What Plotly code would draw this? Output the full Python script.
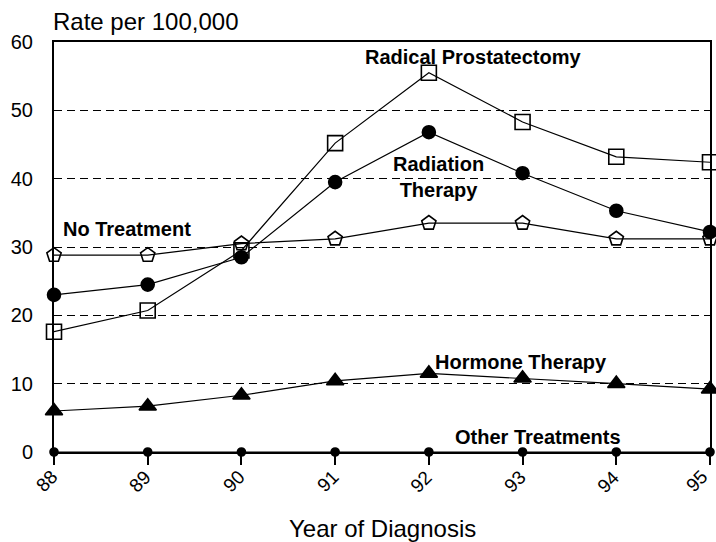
import plotly.graph_objects as go

years = [88, 89, 90, 91, 92, 93, 94, 95]
radical_prostatectomy = [17.6, 20.7, 29.5, 45.2, 55.5, 48.3, 43.2, 42.4]
radiation_therapy = [23.0, 24.5, 28.5, 39.5, 46.8, 40.8, 35.3, 32.2]
no_treatment = [28.8, 28.8, 30.5, 31.2, 33.5, 33.5, 31.2, 31.2]
hormone_therapy = [6.0, 6.7, 8.3, 10.4, 11.5, 10.8, 10.0, 9.2]
other_treatments = [0, 0, 0, 0, 0, 0, 0, 0]
y_ticks = [0, 10, 20, 30, 40, 50, 60]

FONT = "Liberation Sans, Arial, sans-serif"

series = [
    (no_treatment, "pentagon-open", 15, "No Treatment"),
    (radical_prostatectomy, "square-open", 15, "Radical Prostatectomy"),
    (radiation_therapy, "circle", 13, "Radiation Therapy"),
    (hormone_therapy, "triangle-up", 15, "Hormone Therapy"),
    (other_treatments, "circle", 8, "Other Treatments"),
]

fig = go.Figure()
for vals, sym, size, name in series:
    fig.add_trace(go.Scatter(
        x=years, y=vals, name=name, mode="lines+markers",
        line=dict(color="black", width=1.2),
        marker=dict(symbol=sym, size=size, color="black",
                    line=dict(color="black", width=1.6)),
        cliponaxis=False, showlegend=False,
    ))

# series labels placed inside the plot
labels = [
    (92.48, 57.8, "Radical Prostatectomy", "center"),
    (92.10, 40.2, "Radiation<br>Therapy", "center"),
    (88.07, 32.6, "No Treatment", "left"),
    (92.04, 13.2, "Hormone Therapy", "left"),
    (92.26, 2.2, "Other Treatments", "left"),
]
for x, y, t, al in labels:
    fig.add_annotation(x=x, y=y, text="<b>" + t + "</b>", showarrow=False,
                       xanchor=al, yanchor="middle", align="center",
                       font=dict(family=FONT, size=20, color="black"))

# rotated year labels under each tick (last one nudged inside the page)
for yr in years:
    fig.add_annotation(x=yr, y=0, text=str(yr), showarrow=False,
                       textangle=-45, xanchor="center", yanchor="middle",
                       xshift=-14 if yr == years[-1] else -8, yshift=-29,
                       font=dict(family=FONT, size=19, color="black"))

fig.add_annotation(xref="paper", yref="paper", x=0.5, y=0, yshift=-76,
                   text="Year of Diagnosis", showarrow=False,
                   xanchor="center", yanchor="middle",
                   font=dict(family=FONT, size=24, color="black"))

fig.add_annotation(xref="paper", yref="paper", x=-0.005, y=1.0, yshift=21,
                   text="Rate per 100,000", showarrow=False,
                   xanchor="left", yanchor="middle",
                   font=dict(family=FONT, size=24, color="black"))

fig.update_xaxes(
    range=[88, 95], tickvals=years, showticklabels=False,
    ticks="outside", ticklen=11, tickwidth=2, tickcolor="black",
    showline=True, linecolor="black", linewidth=2, mirror=True,
    showgrid=False, zeroline=False,
)
fig.update_yaxes(
    range=[0, 60], tickvals=y_ticks, ticks="", ticklabelstandoff=15,
    showline=True, linecolor="black", linewidth=2, mirror=True,
    showgrid=True, gridcolor="black", gridwidth=1, griddash="8px,5px",
    zeroline=False,
    tickfont=dict(family=FONT, size=20, color="black"),
)

fig.update_layout(
    width=716, height=542,
    margin=dict(l=54, r=4, t=42, b=90),
    paper_bgcolor="white", plot_bgcolor="white",
)

fig.write_html("out.html")
